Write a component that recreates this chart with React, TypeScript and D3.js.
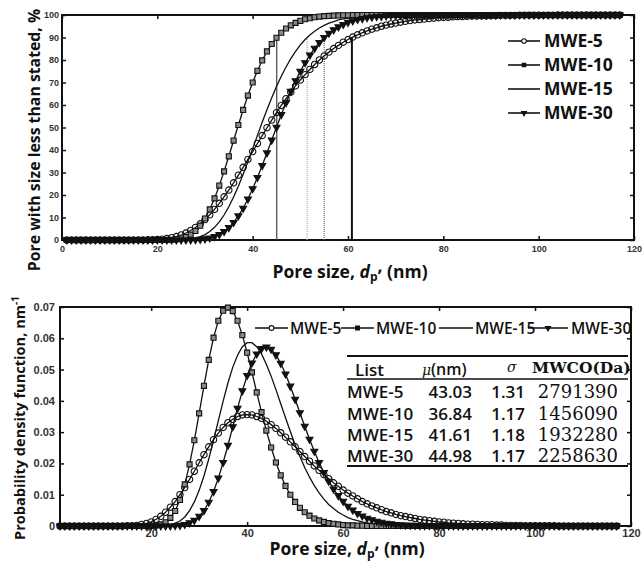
import React, { useEffect, useRef } from 'react';
import * as d3 from 'd3';

// pore size grid (nm), one marker per point
const poreSize = [
  1, 2, 3, 4, 5, 6, 7, 8, 9, 10,
  11, 12, 13, 14, 15, 16, 17, 18, 19, 20,
  21, 22, 23, 24, 25, 26, 27, 28, 29, 30,
  31, 32, 33, 34, 35, 36, 37, 38, 39, 40,
  41, 42, 43, 44, 45, 46, 47, 48, 49, 50,
  51, 52, 53, 54, 55, 56, 57, 58, 59, 60,
  61, 62, 63, 64, 65, 66, 67, 68, 69, 70,
  71, 72, 73, 74, 75, 76, 77, 78, 79, 80,
  81, 82, 83, 84, 85, 86, 87, 88, 89, 90,
  91, 92, 93, 94, 95, 96, 97, 98, 99, 100,
  101, 102, 103, 104, 105, 106, 107, 108, 109, 110,
  111, 112, 113, 114, 115, 116, 117,
];

const seriesNames = ['MWE-5', 'MWE-10', 'MWE-15', 'MWE-30'];

// cumulative distribution, % of pores smaller than size
const cdfMwe5 = [
  0, 0, 0, 0, 0, 0, 0, 0, 0, 0,
  0, 0, 0, 0, 0.01, 0.01, 0.03, 0.06, 0.12, 0.23,
  0.39, 0.65, 1.02, 1.53, 2.22, 3.1, 4.22, 5.58, 7.2, 9.08,
  11.2, 13.6, 16.3, 19.2, 22.2, 25.4, 28.8, 32.3, 35.8, 39.3,
  42.9, 46.4, 49.9, 53.3, 56.6, 59.8, 62.8, 65.7, 68.5, 71.1,
  73.5, 75.8, 78.0, 80.0, 81.8, 83.5, 85.1, 86.5, 87.9, 89.1,
  90.2, 91.2, 92.1, 92.9, 93.7, 94.3, 95.0, 95.5, 96.0, 96.4,
  96.8, 97.2, 97.5, 97.8, 98.0, 98.2, 98.4, 98.6, 98.8, 98.9,
  99.0, 99.2, 99.3, 99.3, 99.4, 99.5, 99.5, 99.6, 99.6, 99.7,
  99.7, 99.8, 99.8, 99.8, 99.8, 99.9, 99.9, 99.9, 99.9, 99.9,
  99.9, 99.9, 99.9, 100, 100, 100, 100, 100, 100, 100,
  100, 100, 100, 100, 100, 100, 100,
];
const cdfMwe10 = [
  0, 0, 0, 0, 0, 0, 0, 0, 0, 0,
  0, 0, 0, 0, 0, 0, 0, 0, 0, 0,
  0.02, 0.05, 0.13, 0.32, 0.68, 1.32, 2.39, 4.02, 6.38, 9.54,
  13.6, 18.5, 24.2, 30.5, 37.2, 44.2, 51.1, 57.8, 64.2, 70.0,
  75.2, 79.8, 83.8, 87.1, 89.9, 92.1, 94.0, 95.4, 96.5, 97.4,
  98.1, 98.6, 99.0, 99.3, 99.5, 99.6, 99.7, 99.8, 99.9, 99.9,
  100, 100, 100, 100, 100, 100, 100, 100, 100, 100,
  100, 100, 100, 100, 100, 100, 100, 100, 100, 100,
  100, 100, 100, 100, 100, 100, 100, 100, 100, 100,
  100, 100, 100, 100, 100, 100, 100, 100, 100, 100,
  100, 100, 100, 100, 100, 100, 100, 100, 100, 100,
  100, 100, 100, 100, 100, 100, 100,
];
const cdfMwe15 = [
  0, 0, 0, 0, 0, 0, 0, 0, 0, 0,
  0, 0, 0, 0, 0, 0, 0, 0, 0, 0,
  0, 0, 0.02, 0.04, 0.1, 0.22, 0.45, 0.84, 1.46, 2.41,
  3.77, 5.63, 8.07, 11.1, 14.8, 19.1, 23.9, 29.2, 34.8, 40.6,
  46.5, 52.3, 57.9, 63.2, 68.2, 72.8, 76.9, 80.6, 83.8, 86.7,
  89.1, 91.1, 92.8, 94.2, 95.4, 96.4, 97.1, 97.8, 98.3, 98.6,
  99.0, 99.2, 99.4, 99.5, 99.6, 99.7, 99.8, 99.9, 99.9, 99.9,
  100, 100, 100, 100, 100, 100, 100, 100, 100, 100,
  100, 100, 100, 100, 100, 100, 100, 100, 100, 100,
  100, 100, 100, 100, 100, 100, 100, 100, 100, 100,
  100, 100, 100, 100, 100, 100, 100, 100, 100, 100,
  100, 100, 100, 100, 100, 100, 100,
];
const cdfMwe30 = [
  0, 0, 0, 0, 0, 0, 0, 0, 0, 0,
  0, 0, 0, 0, 0, 0, 0, 0, 0, 0,
  0, 0, 0, 0, 0.01, 0.02, 0.06, 0.13, 0.26, 0.5,
  0.89, 1.51, 2.43, 3.74, 5.5, 7.81, 10.7, 14.1, 18.2, 22.8,
  27.8, 33.1, 38.7, 44.4, 50.1, 55.7, 61.0, 66.1, 70.8, 75.0,
  78.8, 82.2, 85.2, 87.8, 90.0, 91.9, 93.4, 94.7, 95.8, 96.7,
  97.4, 98.0, 98.4, 98.8, 99.1, 99.3, 99.4, 99.6, 99.7, 99.8,
  99.8, 99.9, 99.9, 100, 100, 100, 100, 100, 100, 100,
  100, 100, 100, 100, 100, 100, 100, 100, 100, 100,
  100, 100, 100, 100, 100, 100, 100, 100, 100, 100,
  100, 100, 100, 100, 100, 100, 100, 100, 100, 100,
  100, 100, 100, 100, 100, 100, 100,
];

// probability density, nm^-1
const pdfMwe5 = [
  0, 0, 0, 0, 0, 0, 0, 0, 0, 0,
  0, 0, 0, 0, 0.0001, 0.0001, 0.0002, 0.0005, 0.0008, 0.0013,
  0.0021, 0.0031, 0.0044, 0.006, 0.0078, 0.01, 0.0123, 0.0149, 0.0175, 0.0202,
  0.0228, 0.0253, 0.0276, 0.0297, 0.0315, 0.033, 0.0341, 0.035, 0.0355, 0.0356,
  0.0355, 0.035, 0.0344, 0.0335, 0.0324, 0.0312, 0.0298, 0.0284, 0.0269, 0.0253,
  0.0238, 0.0222, 0.0207, 0.0192, 0.0178, 0.0164, 0.0151, 0.0138, 0.0127, 0.0115,
  0.0105, 0.0096, 0.0087, 0.0078, 0.0071, 0.0064, 0.0058, 0.0052, 0.0046, 0.0042,
  0.0037, 0.0033, 0.003, 0.0027, 0.0024, 0.0021, 0.0019, 0.0017, 0.0015, 0.0013,
  0.0012, 0.001, 0.0009, 0.0008, 0.0007, 0.0006, 0.0006, 0.0005, 0.0004, 0.0004,
  0.0004, 0.0003, 0.0003, 0.0002, 0.0002, 0.0002, 0.0002, 0.0001, 0.0001, 0.0001,
  0.0001, 0.0001, 0.0001, 0.0001, 0, 0, 0, 0, 0, 0,
  0, 0, 0, 0, 0, 0, 0,
];
const pdfMwe10 = [
  0, 0, 0, 0, 0, 0, 0, 0, 0, 0,
  0, 0, 0, 0, 0, 0, 0, 0, 0, 0,
  0.0002, 0.0005, 0.0012, 0.0026, 0.0048, 0.0083, 0.0133, 0.0197, 0.0274, 0.036,
  0.0448, 0.0531, 0.0602, 0.0656, 0.0688, 0.0698, 0.0687, 0.0656, 0.061, 0.0554,
  0.0491, 0.0427, 0.0364, 0.0305, 0.0251, 0.0203, 0.0162, 0.0128, 0.01, 0.0077,
  0.0058, 0.0044, 0.0033, 0.0024, 0.0018, 0.0013, 0.0009, 0.0007, 0.0005, 0.0003,
  0.0002, 0.0002, 0.0001, 0.0001, 0, 0, 0, 0, 0, 0,
  0, 0, 0, 0, 0, 0, 0, 0, 0, 0,
  0, 0, 0, 0, 0, 0, 0, 0, 0, 0,
  0, 0, 0, 0, 0, 0, 0, 0, 0, 0,
  0, 0, 0, 0, 0, 0, 0, 0, 0, 0,
  0, 0, 0, 0, 0, 0, 0,
];
const pdfMwe15 = [
  0, 0, 0, 0, 0, 0, 0, 0, 0, 0,
  0, 0, 0, 0, 0, 0, 0, 0, 0, 0,
  0, 0, 0.0002, 0.0004, 0.0009, 0.0016, 0.0029, 0.0049, 0.0077, 0.0114,
  0.016, 0.0214, 0.0274, 0.0337, 0.0399, 0.0457, 0.0507, 0.0546, 0.0573, 0.0586,
  0.0586, 0.0573, 0.055, 0.0517, 0.0479, 0.0436, 0.0391, 0.0346, 0.0302, 0.026,
  0.0222, 0.0187, 0.0156, 0.0129, 0.0106, 0.0086, 0.0069, 0.0056, 0.0044, 0.0035,
  0.0027, 0.0021, 0.0017, 0.0013, 0.001, 0.0008, 0.0006, 0.0004, 0.0003, 0.0003,
  0.0002, 0.0001, 0.0001, 0.0001, 0, 0, 0, 0, 0, 0,
  0, 0, 0, 0, 0, 0, 0, 0, 0, 0,
  0, 0, 0, 0, 0, 0, 0, 0, 0, 0,
  0, 0, 0, 0, 0, 0, 0, 0, 0, 0,
  0, 0, 0, 0, 0, 0, 0,
];
const pdfMwe30 = [
  0, 0, 0, 0, 0, 0, 0, 0, 0, 0,
  0, 0, 0, 0, 0, 0, 0, 0, 0, 0,
  0, 0, 0, 0, 0.0001, 0.0002, 0.0005, 0.001, 0.0018, 0.0031,
  0.0049, 0.0076, 0.011, 0.0153, 0.0203, 0.0258, 0.0317, 0.0376, 0.0432, 0.0481,
  0.0521, 0.055, 0.0567, 0.0572, 0.0565, 0.0547, 0.052, 0.0486, 0.0447, 0.0405,
  0.0362, 0.0319, 0.0277, 0.0239, 0.0203, 0.0171, 0.0143, 0.0118, 0.0097, 0.0079,
  0.0063, 0.0051, 0.004, 0.0032, 0.0025, 0.002, 0.0015, 0.0012, 0.0009, 0.0007,
  0.0005, 0.0004, 0.0003, 0.0002, 0.0002, 0.0001, 0.0001, 0.0001, 0, 0,
  0, 0, 0, 0, 0, 0, 0, 0, 0, 0,
  0, 0, 0, 0, 0, 0, 0, 0, 0, 0,
  0, 0, 0, 0, 0, 0, 0, 0, 0, 0,
  0, 0, 0, 0, 0, 0, 0,
];

// size where 90 % of pores are smaller (vertical markers in top plot)
const d90 = [60.82, 45.05, 51.44, 55.01];

const tableMu = ['43.03', '36.84', '41.61', '44.98'];
const tableSigma = ['1.31', '1.17', '1.18', '1.17'];
const tableMwco = ['2791390', '1456090', '1932280', '2258630'];

const topXTicks = [0, 20, 40, 60, 80, 100, 120];
const topYTicks = [0, 10, 20, 30, 40, 50, 60, 70, 80, 90, 100];
const botXTicks = [20, 40, 60, 80, 100, 120];
const botYTicks = [0, 0.01, 0.02, 0.03, 0.04, 0.05, 0.06, 0.07];

const cdfSeries = [cdfMwe5, cdfMwe10, cdfMwe15, cdfMwe30];
const pdfSeries = [pdfMwe5, pdfMwe10, pdfMwe15, pdfMwe30];

const ink = '#111';
const sans = "'Open Sans', 'Liberation Sans', sans-serif";
const tickFont = "'Liberation Sans', Arial, sans-serif";
const serif = "'DejaVu Serif', serif";

// marker shape per series: circle, square, none, down triangle
const markerPath = (s, size) => {
  if (s === 0) return d3.symbol(d3.symbolCircle, size)();
  if (s === 1) return d3.symbol(d3.symbolSquare, size * 0.8)();
  if (s === 3) return d3.symbol(d3.symbolTriangle, size * 0.65)();
  return null;
};
const markerFill = ['none', '#8a8a8a', 'none', ink];

const App = () => {
  const svgRef = useRef(null);

  useEffect(() => {
    const svg = d3.select(svgRef.current);
    svg.selectAll('*').remove();

    const topX = d3.scaleLinear().domain([0, 120]).range([62, 634]);
    const topY = d3.scaleLinear().domain([0, 100]).range([240, 15]);
    const botX = d3.scaleLinear().domain([1, 120]).range([60, 631]);
    const botY = d3.scaleLinear().domain([0, 0.07]).range([526, 307]);

    const styleAxis = (g, size) => {
      g.select('.domain').remove();
      g.selectAll('.tick line').attr('stroke', ink).attr('stroke-width', 1.5);
      g.selectAll('.tick text')
        .attr('font-family', tickFont)
        .attr('font-weight', 'bold')
        .attr('font-size', size)
        .attr('fill', '#333');
    };

    const drawFrame = (xs, ys, xTicks, yTicks, yFmt, size, xPad, yPad) => {
      const [x0, x1] = xs.range();
      const [y0, y1] = ys.range();
      svg.append('g').attr('transform', `translate(0,${y0})`)
        .call(d3.axisBottom(xs).tickValues(xTicks).tickSizeInner(-4).tickSizeOuter(0).tickPadding(xPad))
        .call(g => styleAxis(g, size));
      svg.append('g').attr('transform', `translate(${x0},0)`)
        .call(d3.axisLeft(ys).tickValues(yTicks).tickSizeInner(-4).tickSizeOuter(0).tickPadding(yPad).tickFormat(yFmt))
        .call(g => styleAxis(g, size));
      svg.append('g').attr('transform', `translate(0,${y1})`)
        .call(d3.axisTop(xs).tickValues(xTicks).tickSizeInner(-4).tickSizeOuter(0).tickFormat(() => ''))
        .call(g => styleAxis(g, size));
      svg.append('g').attr('transform', `translate(${x1},0)`)
        .call(d3.axisRight(ys).tickValues(yTicks).tickSizeInner(-4).tickSizeOuter(0).tickFormat(() => ''))
        .call(g => styleAxis(g, size));
      svg.append('rect')
        .attr('x', x0).attr('y', y1)
        .attr('width', x1 - x0).attr('height', y0 - y1)
        .attr('fill', 'none').attr('stroke', ink).attr('stroke-width', 2);
    };

    const drawCurves = (xs, ys, values) => {
      const line = d3.line().x((_, i) => xs(poreSize[i])).y(v => ys(v));
      values.forEach(vals => {
        svg.append('path').datum(vals).attr('d', line)
          .attr('fill', 'none').attr('stroke', ink).attr('stroke-width', 1.3);
      });
      values.forEach((vals, s) => {
        const p = markerPath(s, 32);
        if (!p) return;
        svg.append('g').selectAll('path').data(vals).join('path')
          .attr('d', p)
          .attr('transform', (v, i) => `translate(${xs(poreSize[i])},${ys(v)})${s === 3 ? ' rotate(180)' : ''}`)
          .attr('fill', markerFill[s])
          .attr('stroke', ink)
          .attr('stroke-width', 1.1);
      });
    };

    const legendMarker = (s, cx, cy, size) => {
      const p = markerPath(s, size);
      if (!p) return;
      svg.append('path').attr('d', p)
        .attr('transform', `translate(${cx},${cy})${s === 3 ? ' rotate(180)' : ''}`)
        .attr('fill', s === 0 ? '#fff' : ink)
        .attr('stroke', ink).attr('stroke-width', 1.1);
    };

    // ---------- top: cumulative distribution ----------
    drawFrame(topX, topY, topXTicks, topYTicks, d3.format('d'), 9, 6, 3);

    const vStyles = [
      { w: 2, c: ink, dash: null },
      { w: 1.2, c: '#444', dash: null },
      { w: 1.2, c: '#aaa', dash: '1,1' },
      { w: 1.2, c: '#666', dash: '1,1' },
    ];
    d90.forEach((d, s) => {
      svg.append('line')
        .attr('x1', topX(d)).attr('x2', topX(d))
        .attr('y1', topY(0)).attr('y2', topY(90))
        .attr('stroke', vStyles[s].c).attr('stroke-width', vStyles[s].w)
        .attr('stroke-dasharray', vStyles[s].dash);
    });
    drawCurves(topX, topY, cdfSeries);

    seriesNames.forEach((name, s) => {
      const cy = 41 + s * 24;
      svg.append('line').attr('x1', 508).attr('x2', 540).attr('y1', cy).attr('y2', cy)
        .attr('stroke', ink).attr('stroke-width', 1.6);
      legendMarker(s, 524, cy, 16);
      svg.append('text').attr('x', 544).attr('y', cy + 6)
        .attr('font-family', sans).attr('font-weight', 700).attr('font-size', 17.5)
        .attr('fill', ink).text(name);
    });

    svg.append('text')
      .attr('transform', 'translate(40,140) rotate(-90)')
      .attr('text-anchor', 'middle')
      .attr('font-family', sans).attr('font-weight', 700).attr('font-size', 15.8)
      .attr('fill', ink)
      .text('Pore with size less than stated, %');

    const xTitle = (cx, by) => {
      const t = svg.append('text').attr('x', cx).attr('y', by)
        .attr('text-anchor', 'middle')
        .attr('font-family', sans).attr('font-weight', 700).attr('font-size', 17.5)
        .attr('fill', ink);
      t.append('tspan').text('Pore size, ');
      t.append('tspan').attr('font-style', 'italic').text('d');
      t.append('tspan').attr('font-size', 12).attr('dy', 3).text('p');
      t.append('tspan').attr('dy', -9).text(',');
      t.append('tspan').attr('dy', 6).text(' (nm)');
    };
    xTitle(350, 278);

    // ---------- bottom: probability density ----------
    drawFrame(botX, botY, botXTicks, botYTicks, d => (d === 0 ? '0' : d3.format('.2f')(d)), 11, 3, 5);
    drawCurves(botX, botY, pdfSeries);

    const legX = [
      { l0: 255, l1: 288, t: 290 },
      { l0: 341, l1: 374, t: 376 },
      { l0: 439, l1: 473, t: 475 },
      { l0: 528, l1: 568, t: 571 },
    ];
    seriesNames.forEach((name, s) => {
      const cy = 328;
      svg.append('line').attr('x1', legX[s].l0).attr('x2', legX[s].l1).attr('y1', cy).attr('y2', cy)
        .attr('stroke', ink).attr('stroke-width', 1.4);
      legendMarker(s, (legX[s].l0 + legX[s].l1) / 2, cy, 18);
      svg.append('text').attr('x', legX[s].t).attr('y', cy + 6)
        .attr('font-family', sans).attr('font-weight', 600).attr('font-size', 15.5)
        .attr('fill', ink).text(name);
    });

    const yt = svg.append('text')
      .attr('transform', 'translate(25,418) rotate(-90)')
      .attr('text-anchor', 'middle')
      .attr('font-family', sans).attr('font-weight', 700).attr('font-size', 14.6)
      .attr('fill', ink);
    yt.append('tspan').text('Probability density function, nm');
    yt.append('tspan').attr('font-size', 10).attr('dy', -6).text('-1');

    xTitle(347, 555);

    // ---------- table ----------
    [[356, 2], [379, 1.4], [466, 2]].forEach(([y, w]) => {
      svg.append('line').attr('x1', 347).attr('x2', 628).attr('y1', y).attr('y2', y)
        .attr('stroke', ink).attr('stroke-width', w);
    });
    const cell = (x, y, str, opts) => svg.append('text').attr('x', x).attr('y', y)
      .attr('text-anchor', opts.anchor || 'start')
      .attr('font-family', opts.family || sans)
      .attr('font-weight', opts.weight || 600)
      .attr('font-style', opts.style || 'normal')
      .attr('font-size', opts.size || 17)
      .attr('fill', ink)
      .text(str);

    cell(355, 376, 'List', {});
    cell(422, 375, 'μ', { family: serif, style: 'italic', weight: 400, size: 14 });
    cell(431, 375, '(nm)', { size: 16 });
    cell(507, 372, 'σ', { family: serif, style: 'italic', weight: 400, size: 14 });
    cell(532, 373, 'MWCO(Da)', { family: serif, weight: 700, size: 15.5 });

    const rowY = [398, 420, 441, 462];
    seriesNames.forEach((name, r) => {
      cell(347, rowY[r], name, {});
      cell(472, rowY[r], tableMu[r], { anchor: 'end' });
      cell(525, rowY[r], tableSigma[r], { anchor: 'end' });
      cell(618, rowY[r], tableMwco[r], { anchor: 'end', family: serif, weight: 400, size: 18 });
    });
  }, []);

  return (
    <svg ref={svgRef} width={642} height={561}
      style={{ position: 'absolute', left: 0, top: 0, background: '#fff' }} />
  );
};

export default App;
